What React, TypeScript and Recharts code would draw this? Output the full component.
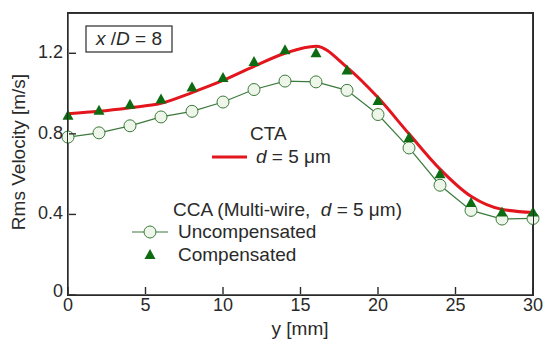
import { CartesianGrid, Line, LineChart, XAxis, YAxis } from "recharts";

const yPositions = [0, 2, 4, 6, 8, 10, 12, 14, 16, 18, 20, 22, 24, 26, 28, 30];
const ctaValues = [0.9, 0.912, 0.93, 0.952, 1.005, 1.065, 1.135, 1.2, 1.235, 1.13, 0.98, 0.8, 0.625, 0.49, 0.425, 0.41];
const uncompensated = [0.784, 0.805, 0.84, 0.884, 0.912, 0.958, 1.02, 1.062, 1.058, 1.016, 0.896, 0.73, 0.545, 0.42, 0.377, 0.38];
const compensated = [0.89, 0.915, 0.945, 0.97, 1.03, 1.077, 1.157, 1.215, 1.2, 1.115, 0.963, 0.78, 0.6, 0.457, 0.41, 0.41];
const xTicks = [0, 5, 10, 15, 20, 25, 30];
const yTicks = [0, 0.4, 0.8, 1.2];

const data = yPositions.map((y, i) => ({
  y,
  cta: ctaValues[i],
  unc: uncompensated[i],
  comp: compensated[i],
}));

const W = 545;
const H = 342;
const MARGIN = { top: 13, right: 12, bottom: 17, left: 8 };
const Y_AXIS_W = 60;
const X_AXIS_H = 30;

const FONT = "'Liberation Sans', Arial, sans-serif";
const INK = "#2a2a2a";
const RED = "#e3161e";
const GREEN = "#0d6b12";
const CIRCLE = "#3c7a3c";

function Triangle(props: any) {
  const { cx, cy } = props;
  if (cx == null || cy == null) return null;
  return (
    <path
      d={`M${cx},${cy - 6} L${cx + 5.5},${cy + 4} L${cx - 5.5},${cy + 4} Z`}
      fill={GREEN}
      stroke="none"
    />
  );
}

// ticks point into the plot, labels sit outside
function XTick(props: any) {
  const { x, y, payload } = props;
  return (
    <g>
      <line x1={x} y1={y - 1} x2={x} y2={y - 8} stroke={INK} strokeWidth={1.4} />
      <text x={x} y={y + 11} textAnchor="middle" dominantBaseline="middle" fontSize={18} fill={INK} fontFamily={FONT}>
        {payload.value}
      </text>
    </g>
  );
}

function YTick(props: any) {
  const { x, y, payload } = props;
  const label = payload.value === 0 ? "0" : Number(payload.value).toFixed(1);
  return (
    <g>
      <line x1={x + 1} y1={y} x2={x + 8} y2={y} stroke={INK} strokeWidth={1.4} />
      <text x={x - 5} y={payload.value === 0 ? y - 3 : y} textAnchor="end" dominantBaseline="middle" fontSize={18} fill={INK} fontFamily={FONT}>
        {label}
      </text>
    </g>
  );
}

// plot box edges
const boxLeft = MARGIN.left + Y_AXIS_W;
const boxTop = MARGIN.top;
const boxRight = W - MARGIN.right;
const boxBottom = H - MARGIN.bottom - X_AXIS_H;

export default function App() {
  return (
    <div style={{ position: "absolute", left: 0, top: 0, width: W, height: H, background: "#fff" }}>
      <LineChart width={W} height={H} data={data} margin={MARGIN} style={{ fontFamily: FONT }}>
        <CartesianGrid
          horizontalPoints={[boxTop]}
          verticalPoints={[boxRight]}
          stroke={INK}
          strokeWidth={1.5}
          strokeDasharray=""
        />
        <XAxis
          dataKey="y"
          type="number"
          domain={[0, 30]}
          ticks={xTicks}
          height={X_AXIS_H}
          stroke={INK}
          strokeWidth={1.4}
          tickSize={0}
          tickMargin={0}
          tickLine={false}
          tick={<XTick />}
        />
        <YAxis
          type="number"
          domain={[0, 1.4]}
          ticks={yTicks}
          width={Y_AXIS_W}
          stroke={INK}
          strokeWidth={1.4}
          tickSize={0}
          tickMargin={0}
          tickLine={false}
          tick={<YTick />}
        />
        <Line
          dataKey="unc"
          type="linear"
          stroke={CIRCLE}
          strokeWidth={1.2}
          dot={{ r: 6, fill: "#eef6ea", stroke: CIRCLE, strokeWidth: 1 }}
          isAnimationActive={false}
        />
        <Line dataKey="cta" type="monotone" stroke={RED} strokeWidth={3} dot={false} isAnimationActive={false} />
        <Line dataKey="comp" stroke="none" dot={<Triangle />} isAnimationActive={false} />

        <text x={20} y={152} transform="rotate(-90 20 152)" textAnchor="middle" dominantBaseline="middle" fontSize={19} fill={INK} fontFamily={FONT}>
          Rms Velocity [m/s]
        </text>
        <text x={300} y={330} textAnchor="middle" dominantBaseline="middle" fontSize={19} fill={INK} fontFamily={FONT}>
          y [mm]
        </text>

        <rect x={86} y={26} width={86} height={26} fill="#fff" stroke={INK} strokeWidth={1.2} />
        <text x={129} y={40} textAnchor="middle" dominantBaseline="middle" fontSize={19} fill={INK} fontFamily={FONT}>
          <tspan fontStyle="italic">x</tspan> /<tspan fontStyle="italic">D</tspan> = 8
        </text>

        <text x={250} y={135} dominantBaseline="middle" fontSize={19} fill={INK} fontFamily={FONT}>CTA</text>
        <line x1={212} y1={157} x2={247} y2={157} stroke={RED} strokeWidth={3} />
        <text x={256} y={158} dominantBaseline="middle" fontSize={19} fill={INK} fontFamily={FONT}>
          <tspan fontStyle="italic">d</tspan> = 5 μm
        </text>

        <text x={173} y={211} dominantBaseline="middle" fontSize={19} fill={INK} fontFamily={FONT} style={{ whiteSpace: "pre" }}>
          {"CCA (Multi-wire,  "}<tspan fontStyle="italic">d</tspan> = 5 μm)
        </text>
        <line x1={132} y1={232} x2={168} y2={232} stroke={CIRCLE} strokeWidth={1.2} />
        <circle cx={150} cy={232} r={6} fill="#eef6ea" stroke={CIRCLE} strokeWidth={1} />
        <text x={178} y={233} dominantBaseline="middle" fontSize={19} fill={INK} fontFamily={FONT}>Uncompensated</text>
        <path d="M150,249 L155.5,259 L144.5,259 Z" fill={GREEN} />
        <text x={178} y={256} dominantBaseline="middle" fontSize={19} fill={INK} fontFamily={FONT}>Compensated</text>

        <line x1={boxLeft} y1={boxTop} x2={boxRight} y2={boxTop} stroke={INK} strokeWidth={1.5} />
        <line x1={boxRight} y1={boxTop} x2={boxRight} y2={boxBottom} stroke={INK} strokeWidth={1.5} />
      </LineChart>
      <div
        style={{
          position: "absolute",
          left: boxLeft - 1,
          top: boxTop - 1,
          width: boxRight - boxLeft + 2,
          height: boxBottom - boxTop + 2,
          boxSizing: "border-box",
          border: `1.5px solid ${INK}`,
          pointerEvents: "none",
        }}
      />
    </div>
  );
}
